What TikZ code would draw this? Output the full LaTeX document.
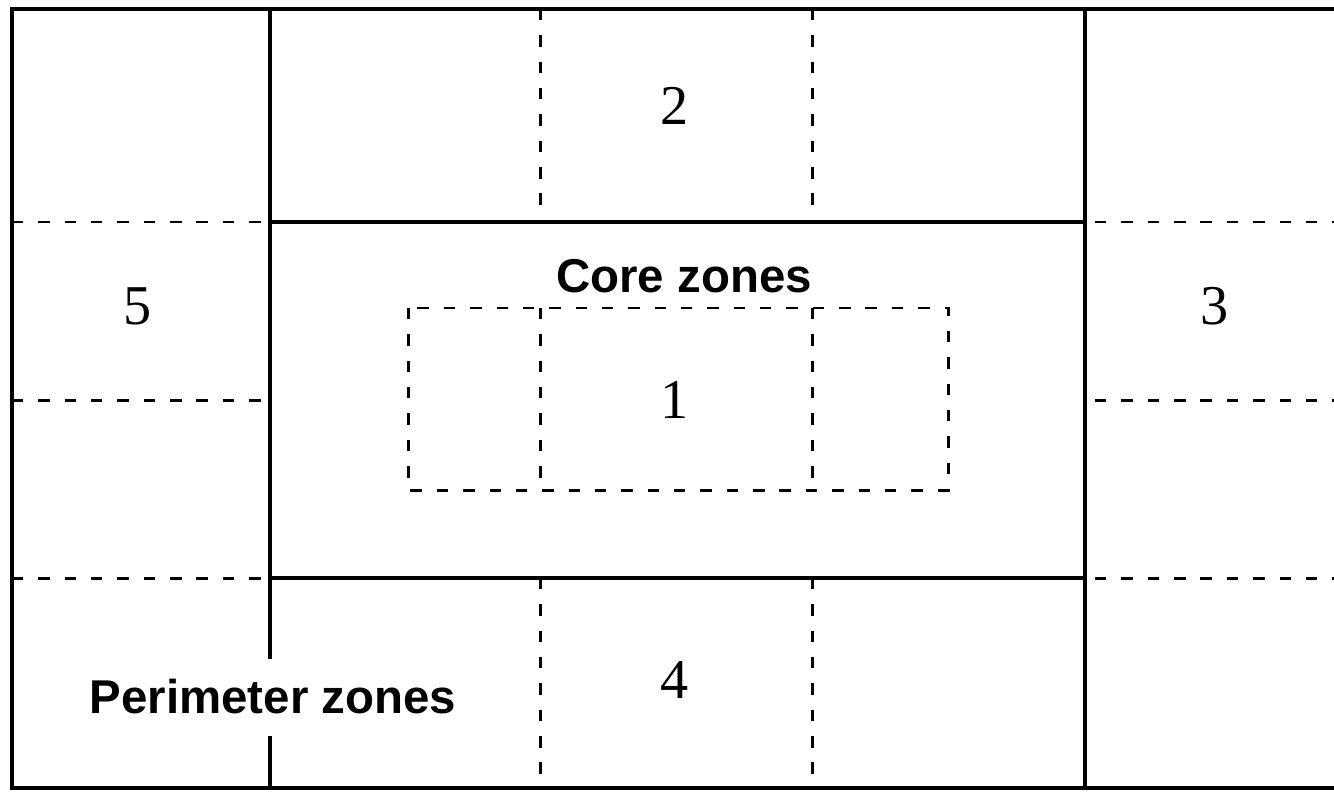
\documentclass[tikz,border=0pt]{standalone}
\usepackage{fontspec}
\setmainfont{Liberation Serif}
\setsansfont{Liberation Sans}
\usetikzlibrary{positioning}

\begin{document}
\begin{tikzpicture} [x=0.02cm, y=-0.02cm,
  wall/.style = {line width=2.8pt},
  part/.style = {line width=1.8pt},
  zoneline/.style = {line width=1.7pt, dash pattern=on 6.5pt off 8.5pt},
  num/.style = {font=\fontsize{32}{36}\selectfont, inner sep=0pt},
  tag/.style = {font=\fontsize{27}{30}\sffamily\bfseries\selectfont, inner sep=2pt}]
\useasboundingbox (0,0) rectangle (1334,791);
% corners of the core block
\coordinate (cnw) at (270,222);
\coordinate (cne) at (1085,222);
\coordinate (csw) at (270,578);
\coordinate (cse) at (1085,578);
% outer walls (right wall runs off the page)
\draw[wall] (1345,9) -- (12,9) -- (12,788) -- (1345,788);
% partitions from the core block to the walls
\draw[part] (cnw) -- (cnw |- 0,9);
\draw[part] (cne) -- (cne |- 0,9);
\draw[part] (csw) -- (csw |- 0,788);
\draw[part] (cse) -- (cse |- 0,788);
\draw[wall] (cnw) rectangle (cse);
% dashed zone boundaries
\draw[zoneline] (12,222) -- (cnw);
\draw[zoneline] (12,578) -- (csw);
\draw[zoneline] (12,400) -- (262,400);
\draw[zoneline] (1095,222) -- (1334,222);
\draw[zoneline] (1095,578) -- (1334,578);
\draw[zoneline] (1095,400) -- (1334,400);
\draw[zoneline] (540,9) -- (540,222);
\draw[zoneline] (812,9) -- (812,222);
\draw[zoneline] (540,578) -- (540,788);
\draw[zoneline] (812,578) -- (812,788);
\draw[zoneline] (408,308) rectangle (948,490);
\draw[zoneline] (540,308) -- (540,490);
\draw[zoneline] (812,308) -- (812,490);
% zone numbers
\node[num] (z1) at (675,400) {1};
\node[num] (z2) at (675,106) {2};
\node[num] (z3) at (1215,306) {3};
\node[num] (z4) at (675,680) {4};
\node[num] (z5) at (138,306) {5};
\node[tag] (core) at (684,276) {Core zones};
\node[tag, fill=white, inner ysep=12pt] (perim) at (273,697) {Perimeter zones};
\end{tikzpicture}
\end{document}
